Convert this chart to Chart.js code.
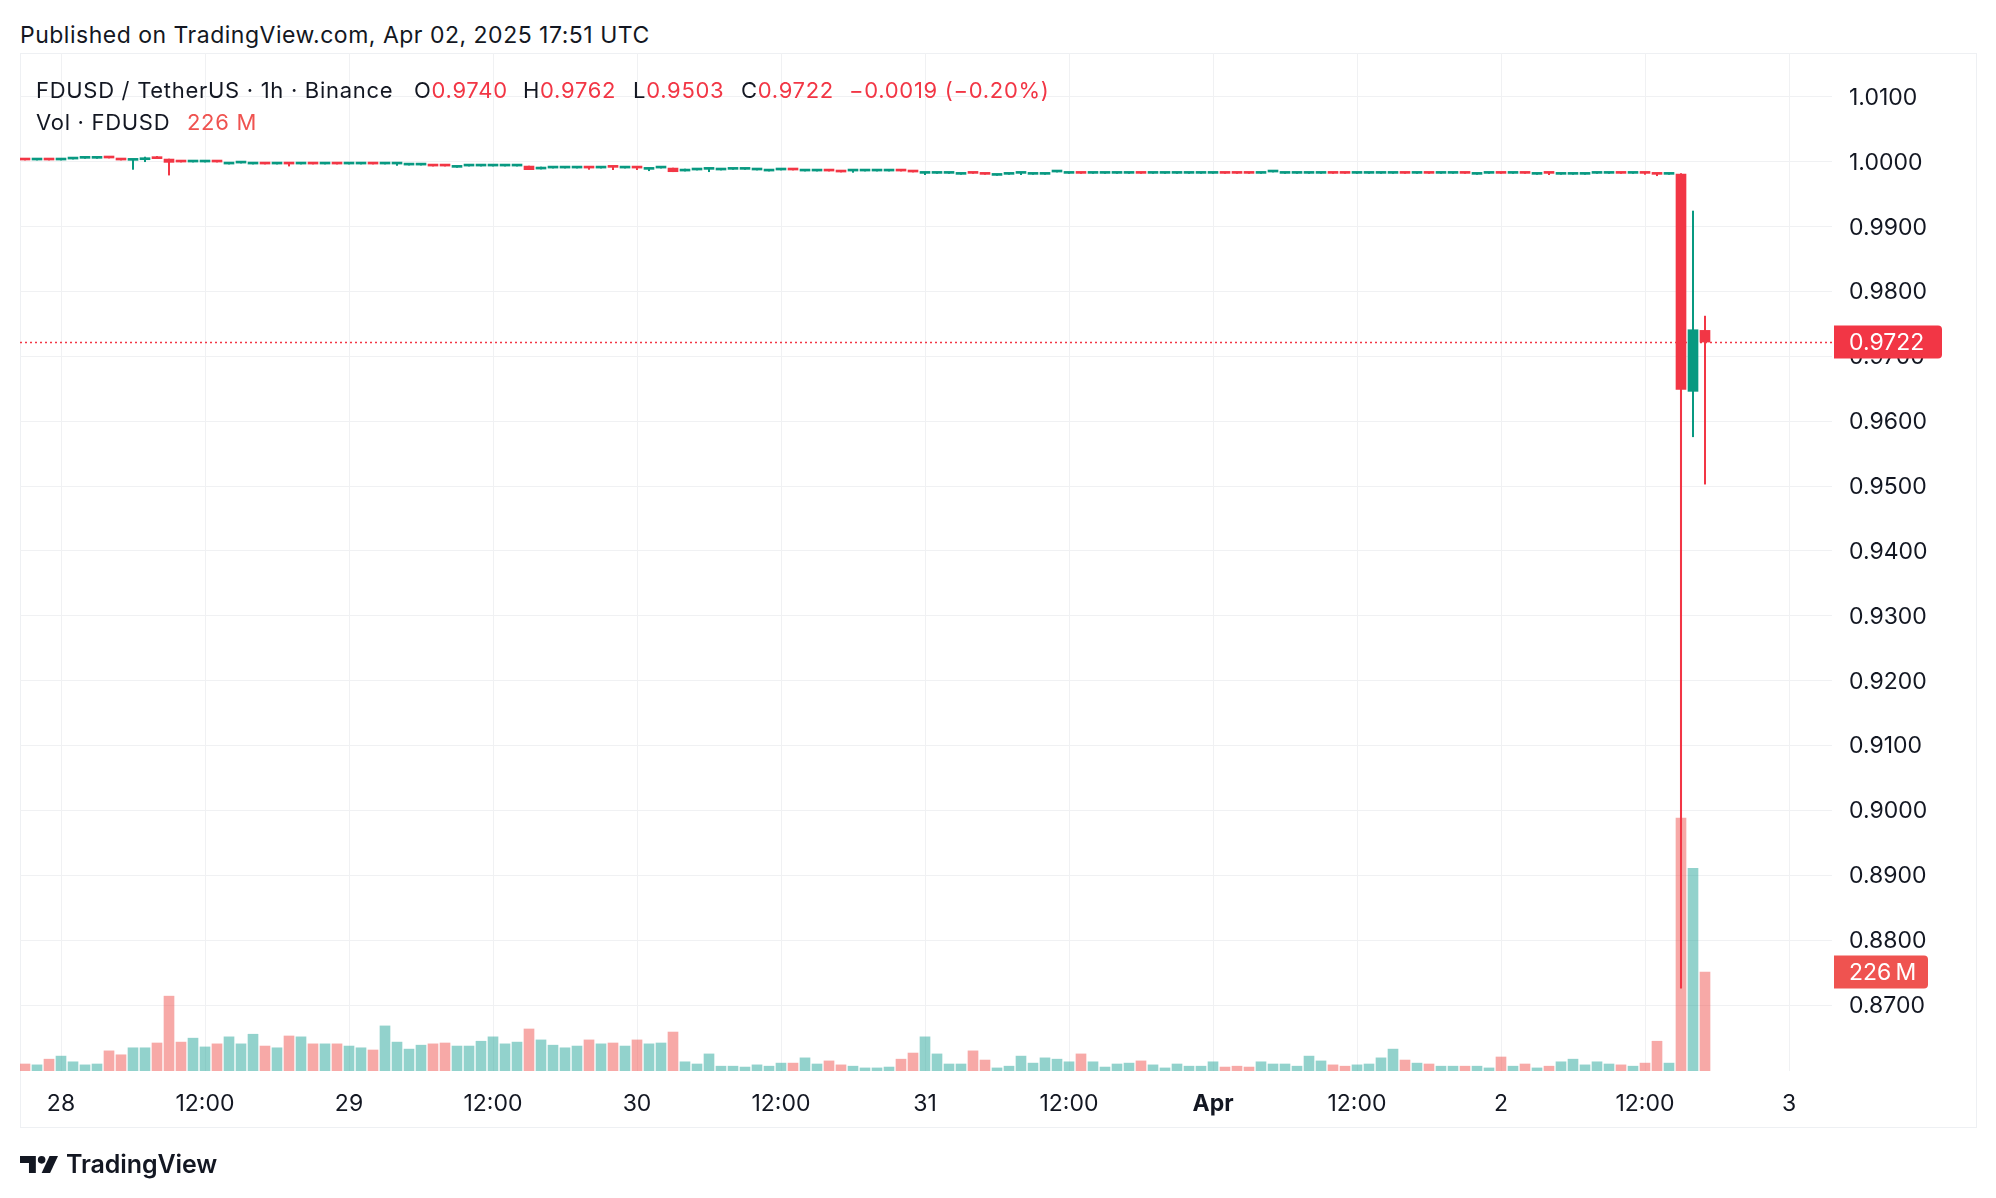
<!DOCTYPE html>
<html>
<head>
<meta charset="utf-8">
<title>FDUSD / TetherUS 1h</title>
<script src="https://cdn.jsdelivr.net/npm/chart.js@4.4.1/dist/chart.umd.min.js"></script>
<style>
  html, body { margin: 0; padding: 0; background: #ffffff; }
  body {
    width: 1996px; height: 1198px; position: relative; overflow: hidden;
    font-family: Inter, "Noto Sans", sans-serif; color: #131722;
  }
  #published { position: absolute; left: 20px; top: 21px; font-size: 23px; line-height: 28px; letter-spacing: 0.5px; white-space: pre; }
  #frame {
    position: absolute; left: 20px; top: 53px; width: 1957px; height: 1075px;
    border: 1px solid #eef0f3; box-sizing: border-box;
  }
  #chart { position: absolute; left: 0; top: 0; }
  .lg { position: absolute; font-size: 22px; line-height: 26px; letter-spacing: 0.7px; white-space: pre; }
  .red { color: #f23645; }
  .vred { color: #ef5350; }
  #brand { position: absolute; left: 20px; top: 1149px; display: flex; align-items: center; }
  #brand span { font-size: 25px; font-weight: 600; margin-left: 8px; letter-spacing: -0.1px; }
</style>
</head>
<body>
<div id="published">Published on TradingView.com, Apr 02, 2025 17:51 UTC</div>
<div id="frame"></div>
<canvas id="chart" width="1996" height="1198"></canvas>

<div class="lg" style="left:36px; top:77px;">FDUSD / TetherUS · 1h · Binance</div>
<div class="lg" style="left:414px; top:77px;">O<span class="red">0.9740</span></div>
<div class="lg" style="left:523px; top:77px;">H<span class="red">0.9762</span></div>
<div class="lg" style="left:633px; top:77px;">L<span class="red">0.9503</span></div>
<div class="lg" style="left:741px; top:77px;">C<span class="red">0.9722</span></div>
<div class="lg red" style="left:849px; top:77px;">−0.0019 (−0.20%)</div>
<div class="lg" style="left:36px; top:109px;">Vol · FDUSD</div>
<div class="lg vred" style="left:187px; top:109px;">226 M</div>

<div id="brand">
  <svg width="38" height="17" viewBox="0 0 36 16">
    <path d="M0 0 H15 V16 H8.5 V6.5 H0 Z" fill="#131722"/>
    <circle cx="20.5" cy="3.6" r="3.6" fill="#131722"/>
    <path d="M28 0 H36 L28.5 16 H20.5 Z" fill="#131722"/>
  </svg>
  <span>TradingView</span>
</div>

<script>
// hourly candles, first one = 27 Mar 21:00 UTC, last one = 2 Apr 17:00 UTC
const opens = [
  1.00036, 1.00026, 1.00036, 1.00026, 1.00041, 1.00052, 1.00052, 1.00067, 1.00036, 1.00021,
  1.00031, 1.00057, 1.00041, 1.00005, 0.99995, 0.99995, 1.00005, 0.99964, 0.99979, 0.99964,
  0.99974, 0.99964, 0.99974, 0.99964, 0.99974, 0.99964, 0.99974, 0.99964, 0.99964, 0.99974,
  0.99964, 0.99964, 0.99948, 0.99948, 0.99943, 0.99943, 0.99913, 0.99933, 0.99933, 0.99933,
  0.99933, 0.99933, 0.99933, 0.99887, 0.99902, 0.99902, 0.99902, 0.99912, 0.99902, 0.99923,
  0.99902, 0.99912, 0.99882, 0.99902, 0.99902, 0.99856, 0.99872, 0.99882, 0.99872, 0.99882,
  0.99882, 0.99872, 0.99856, 0.99872, 0.99882, 0.99856, 0.99856, 0.99866, 0.99851, 0.99856,
  0.99856, 0.99856, 0.99856, 0.99866, 0.99851, 0.99820, 0.99820, 0.99820, 0.99805, 0.99830,
  0.99815, 0.99789, 0.99805, 0.99820, 0.99805, 0.99805, 0.99841, 0.99820, 0.99830, 0.99820,
  0.99820, 0.99820, 0.99820, 0.99830, 0.99820, 0.99820, 0.99820, 0.99820, 0.99820, 0.99820,
  0.99830, 0.99830, 0.99830, 0.99820, 0.99841, 0.99820, 0.99820, 0.99820, 0.99820, 0.99830,
  0.99830, 0.99820, 0.99820, 0.99820, 0.99820, 0.99830, 0.99820, 0.99830, 0.99820, 0.99820,
  0.99830, 0.99805, 0.99820, 0.99830, 0.99820, 0.99830, 0.99805, 0.99830, 0.99805, 0.99805,
  0.99805, 0.99820, 0.99820, 0.99830, 0.99820, 0.99830, 0.99815, 0.99805, 0.99810, 0.96460, 0.97400
];
const highs = [
  1.00036, 1.00036, 1.00036, 1.00036, 1.00051, 1.00062, 1.00062, 1.00067, 1.00046, 1.00031,
  1.00072, 1.00082, 1.00041, 1.00005, 1.00005, 1.00005, 1.00005, 0.99974, 0.99989, 0.99974,
  0.99974, 0.99974, 0.99974, 0.99974, 0.99974, 0.99974, 0.99974, 0.99974, 0.99974, 0.99974,
  0.99974, 0.99974, 0.99958, 0.99958, 0.99943, 0.99943, 0.99923, 0.99943, 0.99943, 0.99959,
  0.99943, 0.99943, 0.99933, 0.99918, 0.99912, 0.99912, 0.99912, 0.99912, 0.99912, 0.99923,
  0.99912, 0.99912, 0.99892, 0.99912, 0.99902, 0.99887, 0.99882, 0.99892, 0.99882, 0.99892,
  0.99892, 0.99882, 0.99866, 0.99882, 0.99882, 0.99866, 0.99866, 0.99866, 0.99851, 0.99866,
  0.99866, 0.99866, 0.99866, 0.99866, 0.99851, 0.99830, 0.99830, 0.99830, 0.99815, 0.99830,
  0.99815, 0.99799, 0.99815, 0.99830, 0.99815, 0.99815, 0.99851, 0.99830, 0.99830, 0.99830,
  0.99830, 0.99830, 0.99830, 0.99830, 0.99830, 0.99830, 0.99830, 0.99830, 0.99830, 0.99830,
  0.99830, 0.99830, 0.99830, 0.99830, 0.99851, 0.99830, 0.99830, 0.99830, 0.99830, 0.99830,
  0.99830, 0.99830, 0.99830, 0.99830, 0.99830, 0.99830, 0.99830, 0.99830, 0.99830, 0.99830,
  0.99830, 0.99815, 0.99830, 0.99830, 0.99830, 0.99830, 0.99815, 0.99830, 0.99815, 0.99815,
  0.99815, 0.99830, 0.99830, 0.99830, 0.99830, 0.99830, 0.99815, 0.99815, 0.99818, 0.99240, 0.97620
];
const lows = [
  1.00026, 1.00026, 1.00026, 1.00026, 1.00041, 1.00052, 1.00052, 1.00057, 1.00026, 0.99882,
  1.00000, 1.00047, 0.99794, 0.99995, 0.99995, 0.99995, 0.99995, 0.99964, 0.99979, 0.99964,
  0.99964, 0.99964, 0.99933, 0.99964, 0.99964, 0.99964, 0.99964, 0.99964, 0.99964, 0.99964,
  0.99964, 0.99943, 0.99948, 0.99948, 0.99933, 0.99933, 0.99913, 0.99933, 0.99933, 0.99933,
  0.99933, 0.99933, 0.99877, 0.99887, 0.99902, 0.99902, 0.99902, 0.99882, 0.99902, 0.99877,
  0.99902, 0.99877, 0.99861, 0.99902, 0.99846, 0.99856, 0.99872, 0.99846, 0.99872, 0.99882,
  0.99882, 0.99872, 0.99856, 0.99872, 0.99872, 0.99856, 0.99856, 0.99856, 0.99841, 0.99836,
  0.99856, 0.99856, 0.99856, 0.99856, 0.99841, 0.99800, 0.99820, 0.99820, 0.99805, 0.99820,
  0.99805, 0.99789, 0.99805, 0.99800, 0.99805, 0.99805, 0.99841, 0.99820, 0.99820, 0.99820,
  0.99820, 0.99820, 0.99820, 0.99820, 0.99820, 0.99820, 0.99820, 0.99820, 0.99820, 0.99820,
  0.99820, 0.99820, 0.99820, 0.99820, 0.99841, 0.99820, 0.99820, 0.99820, 0.99820, 0.99820,
  0.99820, 0.99820, 0.99820, 0.99820, 0.99820, 0.99820, 0.99820, 0.99820, 0.99820, 0.99820,
  0.99820, 0.99805, 0.99820, 0.99820, 0.99820, 0.99820, 0.99805, 0.99800, 0.99805, 0.99805,
  0.99805, 0.99820, 0.99820, 0.99820, 0.99820, 0.99805, 0.99784, 0.99805, 0.87260, 0.95760, 0.95030
];
const closes = [
  1.00026, 1.00036, 1.00026, 1.00036, 1.00051, 1.00062, 1.00062, 1.00057, 1.00026, 1.00031,
  1.00041, 1.00047, 0.99990, 0.99995, 1.00005, 1.00005, 0.99995, 0.99974, 0.99989, 0.99974,
  0.99964, 0.99974, 0.99964, 0.99974, 0.99964, 0.99974, 0.99964, 0.99974, 0.99974, 0.99964,
  0.99974, 0.99974, 0.99958, 0.99958, 0.99933, 0.99933, 0.99923, 0.99943, 0.99943, 0.99943,
  0.99943, 0.99943, 0.99877, 0.99897, 0.99912, 0.99912, 0.99912, 0.99902, 0.99912, 0.99913,
  0.99912, 0.99902, 0.99892, 0.99912, 0.99846, 0.99866, 0.99882, 0.99892, 0.99882, 0.99892,
  0.99892, 0.99882, 0.99866, 0.99882, 0.99872, 0.99866, 0.99866, 0.99856, 0.99841, 0.99866,
  0.99866, 0.99866, 0.99866, 0.99856, 0.99841, 0.99830, 0.99830, 0.99830, 0.99815, 0.99820,
  0.99805, 0.99799, 0.99815, 0.99830, 0.99815, 0.99815, 0.99851, 0.99830, 0.99820, 0.99830,
  0.99830, 0.99830, 0.99830, 0.99820, 0.99830, 0.99830, 0.99830, 0.99830, 0.99830, 0.99830,
  0.99820, 0.99820, 0.99820, 0.99830, 0.99851, 0.99830, 0.99830, 0.99830, 0.99830, 0.99820,
  0.99820, 0.99830, 0.99830, 0.99830, 0.99830, 0.99820, 0.99830, 0.99820, 0.99830, 0.99830,
  0.99820, 0.99815, 0.99830, 0.99820, 0.99830, 0.99820, 0.99815, 0.99820, 0.99815, 0.99815,
  0.99815, 0.99830, 0.99830, 0.99820, 0.99830, 0.99820, 0.99805, 0.99815, 0.96490, 0.97410, 0.97220
];
// volume in millions of FDUSD
const volumes = [
  16, 14, 27, 34, 21, 14, 16, 46, 37, 53,
  53, 64, 171, 66, 75, 55, 62, 78, 62, 84,
  57, 53, 80, 78, 62, 62, 62, 57, 53, 48,
  103, 66, 50, 59, 62, 64, 57, 57, 68, 78,
  62, 66, 96, 71, 59, 53, 57, 71, 62, 64,
  57, 71, 62, 64, 89, 21, 16, 39, 11, 11,
  9, 14, 11, 18, 18, 30, 16, 23, 14, 11,
  7, 7, 9, 27, 41, 78, 39, 16, 16, 46,
  25, 7, 11, 34, 18, 30, 27, 21, 39, 21,
  9, 16, 18, 23, 14, 7, 16, 11, 11, 21,
  9, 11, 9, 21, 16, 16, 11, 34, 23, 14,
  11, 14, 16, 30, 50, 25, 18, 16, 11, 11,
  11, 11, 7, 32, 11, 16, 7, 11, 21, 27,
  14, 21, 16, 14, 11, 18, 68, 18, 578, 463, 226
];
// time axis: candle index of each labelled hour (28 Mar 00:00 is candle 3)
const xTickIndex = [3, 15, 27, 39, 51, 63, 75, 87, 99, 111, 123, 135, 147];
const xTickLabels = ["28", "12:00", "29", "12:00", "30", "12:00", "31", "12:00", "Apr", "12:00", "2", "12:00", "3"];
const yTicks = [0.87, 0.88, 0.89, 0.90, 0.91, 0.92, 0.93, 0.94, 0.95, 0.96, 0.97, 0.98, 0.99, 1.00, 1.01];

const UP = "#089981";
const DOWN = "#f23645";
const VOL_UP = "rgba(38,166,154,0.5)";
const VOL_DOWN = "rgba(239,83,80,0.5)";
const GRID = "#f0f1f3";
const TEXT = "#131722";
const FONT = "Inter, 'Noto Sans', sans-serif";

const isUp = opens.map((o, i) => closes[i] >= o);
const idx = opens.map((o, i) => i);

// dotted last price line + right axis tags
const lastPricePlugin = {
    id: "lastPrice",
    beforeDatasetsDraw(chart) {
        const { ctx, chartArea, scales } = chart;
        const y = Math.round(scales.y.getPixelForValue(closes[closes.length - 1])) + 0.5;
        ctx.save();
        ctx.strokeStyle = DOWN;
        ctx.lineWidth = 1.5;
        ctx.setLineDash([2, 3]);
        ctx.beginPath();
        ctx.moveTo(chartArea.left, y);
        ctx.lineTo(chartArea.right, y);
        ctx.stroke();
        ctx.restore();
    },
    afterDraw(chart) {
        const { ctx, chartArea, scales } = chart;
        function tag(yc, w, color, text) {
            const h = 33;
            ctx.save();
            ctx.fillStyle = color;
            ctx.beginPath();
            ctx.roundRect(chartArea.right + 2, yc - h / 2, w, h, [0, 4, 4, 0]);
            ctx.fill();
            ctx.fillStyle = "#ffffff";
            ctx.font = "23px " + FONT;
            ctx.textBaseline = "middle";
            ctx.textAlign = "left";
            ctx.fillText(text, chartArea.right + 17, yc + 1);
            ctx.restore();
        }
        tag(scales.y.getPixelForValue(closes[closes.length - 1]), 108, DOWN,
            closes[closes.length - 1].toFixed(4));
        tag(scales.yv.getPixelForValue(volumes[volumes.length - 1]), 94, "#ef5350",
            volumes[volumes.length - 1] + "\u2009M");
    }
};

new Chart(document.getElementById("chart"), {
    type: "bar",
    data: {
        datasets: [
            {
                label: "Volume",
                yAxisID: "yv",
                data: idx.map(i => ({ x: i, y: volumes[i] })),
                backgroundColor: isUp.map(u => u ? VOL_UP : VOL_DOWN),
                barThickness: 10,
                order: 3
            },
            {
                label: "Wick",
                yAxisID: "y",
                data: idx.map(i => ({ x: i, y: [lows[i], highs[i]] })),
                backgroundColor: isUp.map(u => u ? UP : DOWN),
                barThickness: 1.4,
                order: 2
            },
            {
                label: "Body",
                yAxisID: "y",
                data: idx.map(i => ({ x: i, y: [opens[i], closes[i]] })),
                backgroundColor: isUp.map(u => u ? UP : DOWN),
                barThickness: 10,
                minBarLength: 2,
                order: 1
            }
        ]
    },
    options: {
        responsive: false,
        animation: false,
        layout: { padding: { left: 20, top: 53, right: 20, bottom: 71 } },
        datasets: { bar: { grouped: false, borderWidth: 0, borderSkipped: false } },
        plugins: { legend: { display: false }, tooltip: { enabled: false } },
        scales: {
            x: {
                type: "linear",
                min: -0.41667,
                max: 150.58333,
                offset: false,
                grid: { color: GRID, offset: false, drawTicks: false },
                border: { display: false },
                afterBuildTicks: s => { s.ticks = xTickIndex.map(v => ({ value: v })); },
                afterFit: s => { s.height = 56; },
                ticks: {
                    autoSkip: false,
                    maxRotation: 0,
                    padding: 19,
                    color: TEXT,
                    font: c => ({ family: FONT, size: 23, weight: c.tick && c.tick.label === "Apr" ? "700" : "400" }),
                    callback: (v, i) => xTickLabels[i]
                }
            },
            y: {
                position: "right",
                min: 0.85983,
                max: 1.01676,
                grid: { color: GRID, drawTicks: false },
                border: { display: false },
                afterBuildTicks: s => { s.ticks = yTicks.map(v => ({ value: v })); },
                afterFit: s => { s.width = 144; },
                ticks: {
                    padding: 17,
                    labelOffset: 1,
                    color: TEXT,
                    font: { family: FONT, size: 23 },
                    callback: v => v.toFixed(4)
                }
            },
            yv: {
                display: false,
                min: 0,
                max: 2326
            }
        }
    },
    plugins: [lastPricePlugin]
});
</script>
</body>
</html>
